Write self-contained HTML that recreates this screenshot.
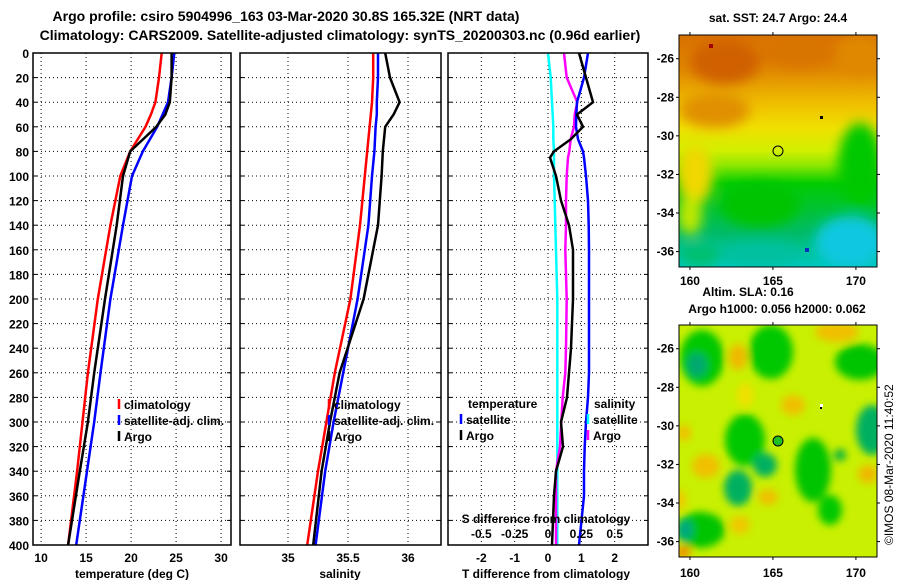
<!DOCTYPE html>
<html><head><meta charset="utf-8">
<style>
body{margin:0;background:#fff;}
svg text{font-family:"Liberation Sans",Arial,sans-serif;font-weight:bold;fill:#000;}
</style></head>
<body>
<svg id="chart" width="900" height="580" viewBox="0 0 900 580" xmlns="http://www.w3.org/2000/svg">
<defs>
<filter id="blur1" x="-50%" y="-50%" width="200%" height="200%"><feGaussianBlur stdDeviation="6"/></filter>
<filter id="blur2" x="-50%" y="-50%" width="200%" height="200%"><feGaussianBlur stdDeviation="4"/></filter>
<clipPath id="clipM1"><rect x="679" y="35" width="198" height="232"/></clipPath>
<clipPath id="clipM2"><rect x="679" y="325" width="198" height="232"/></clipPath>
<linearGradient id="sstGrad" x1="0" y1="0" x2="0" y2="1">
<stop offset="0" stop-color="#d87000"/><stop offset="0.15" stop-color="#e08800"/>
<stop offset="0.3" stop-color="#f0c000"/><stop offset="0.4" stop-color="#f0e000"/>
<stop offset="0.5" stop-color="#d0f000"/><stop offset="0.56" stop-color="#90e800"/>
<stop offset="0.64" stop-color="#00cc00"/><stop offset="0.85" stop-color="#00bb66"/>
<stop offset="1" stop-color="#00c8c0"/>
</linearGradient>
</defs>
<text x="286" y="21" font-size="14" text-anchor="middle">Argo profile: csiro 5904996_163 03-Mar-2020 30.8S 165.32E (NRT data)</text>
<text x="340" y="40" font-size="14" text-anchor="middle">Climatology: CARS2009. Satellite-adjusted climatology: synTS_20200303.nc (0.96d earlier)</text>
<g id="panels"></g>

<!-- SST map -->
<g>
<text x="778" y="22" font-size="12" text-anchor="middle">sat. SST: 24.7 Argo: 24.4</text>
<g clip-path="url(#clipM1)">
<rect x="679" y="35" width="198" height="232" fill="url(#sstGrad)"/>
<g filter="url(#blur1)">
<ellipse cx="725" cy="62" rx="35" ry="22" fill="#d06000"/>
<ellipse cx="800" cy="52" rx="40" ry="16" fill="#d87400"/>
<ellipse cx="860" cy="55" rx="25" ry="20" fill="#e08800"/>
<ellipse cx="715" cy="110" rx="35" ry="18" fill="#e09000"/>
<ellipse cx="695" cy="175" rx="18" ry="30" fill="#f0d800"/>
<ellipse cx="690" cy="215" rx="12" ry="20" fill="#c0e800"/>
<ellipse cx="860" cy="165" rx="22" ry="42" fill="#00c800"/>
<ellipse cx="760" cy="205" rx="40" ry="22" fill="#00c400"/>
<ellipse cx="850" cy="242" rx="35" ry="26" fill="#10c8e0"/>
<ellipse cx="760" cy="255" rx="40" ry="12" fill="#00c0a0"/>
<ellipse cx="700" cy="255" rx="20" ry="12" fill="#00c070"/>
</g>
<rect x="709" y="44" width="4" height="4" fill="#a00000"/>
<rect x="805" y="248" width="4" height="4" fill="#0030c0"/>
<rect x="820" y="116" width="3" height="3" fill="#000"/>
</g>
<rect x="679" y="35" width="198" height="232" fill="none" stroke="#000"/>
<circle cx="778" cy="151" r="5" fill="none" stroke="#000"/>
<g id="m1ticks"></g>
</g>
<text x="748" y="296" font-size="12" text-anchor="middle">Altim. SLA: 0.16</text>
<text x="777" y="313" font-size="12" text-anchor="middle">Argo h1000: 0.056 h2000: 0.062</text>
<!-- SLA map -->
<g>
<g clip-path="url(#clipM2)">
<rect x="679" y="325" width="198" height="232" fill="#c8f000"/>
<g filter="url(#blur2)">
<ellipse cx="702" cy="358" rx="22" ry="28" fill="#00c800"/>
<ellipse cx="697" cy="365" rx="10" ry="12" fill="#00a870"/>
<ellipse cx="771" cy="352" rx="22" ry="27" fill="#00c800"/>
<ellipse cx="860" cy="362" rx="25" ry="18" fill="#00c400"/>
<ellipse cx="872" cy="430" rx="16" ry="25" fill="#00b060"/>
<ellipse cx="745" cy="440" rx="20" ry="26" fill="#00c800"/>
<ellipse cx="765" cy="465" rx="12" ry="12" fill="#00b060"/>
<ellipse cx="738" cy="488" rx="14" ry="18" fill="#00b060"/>
<ellipse cx="813" cy="470" rx="18" ry="32" fill="#00c400"/>
<ellipse cx="830" cy="510" rx="12" ry="15" fill="#00c800"/>
<ellipse cx="700" cy="530" rx="25" ry="18" fill="#00c400"/>
<ellipse cx="685" cy="530" rx="8" ry="10" fill="#00a880"/>
<ellipse cx="840" cy="455" rx="6" ry="6" fill="#00b040"/>
<ellipse cx="738" cy="357" rx="9" ry="13" fill="#f0b800"/>
<ellipse cx="793" cy="405" rx="12" ry="10" fill="#f0c000"/>
<ellipse cx="837" cy="332" rx="22" ry="10" fill="#f0c000"/>
<ellipse cx="706" cy="466" rx="14" ry="12" fill="#f0c000"/>
<ellipse cx="684" cy="433" rx="7" ry="8" fill="#f0c000"/>
<ellipse cx="868" cy="474" rx="10" ry="9" fill="#f0b800"/>
<ellipse cx="768" cy="497" rx="10" ry="8" fill="#f0c000"/>
<ellipse cx="740" cy="525" rx="10" ry="9" fill="#f0c800"/>
<ellipse cx="683" cy="552" rx="8" ry="6" fill="#f09000"/>
<ellipse cx="745" cy="395" rx="8" ry="12" fill="#f0e000"/>
<ellipse cx="680" cy="500" rx="6" ry="10" fill="#f0c800"/>
</g>
<rect x="820" y="404" width="3" height="3" fill="#fff"/>
<rect x="820" y="407" width="2" height="2" fill="#000"/>
</g>
<rect x="679" y="325" width="198" height="232" fill="none" stroke="#000"/>
<circle cx="778" cy="441" r="5" fill="#20c020" stroke="#000"/>
<g id="m2ticks"></g>
</g>
<text transform="translate(893,545) rotate(-90)" font-size="12" style="font-weight:normal">©IMOS 08-Mar-2020 11:40:52</text>
</svg>
<script>
// depth levels (m)
const depths = [0, 20, 40, 50, 60, 80, 100, 140, 200, 260, 300, 340, 400];
// temperature (deg C)
const tempClim = [23.4, 23.1, 22.7, 22.2, 21.6, 19.9, 18.8, 17.7, 16.3, 15.2, 14.6, 14.0, 13.0];
const tempSat  = [24.8, 24.5, 24.1, 23.5, 22.9, 21.3, 20.1, 19.1, 17.7, 16.6, 15.9, 15.1, 13.9];
const tempArgo = [24.5, 24.5, 24.3, 23.8, 22.8, 19.9, 19.1, 18.4, 17.1, 15.9, 15.2, 14.3, 13.0];
// salinity
const salClim = [35.71, 35.71, 35.70, 35.69, 35.68, 35.66, 35.64, 35.60, 35.52, 35.39, 35.32, 35.25, 35.16];
const salSat  = [35.75, 35.75, 35.74, 35.74, 35.73, 35.72, 35.70, 35.67, 35.58, 35.46, 35.38, 35.31, 35.23];
const salArgo = [35.81, 35.85, 35.93, 35.88, 35.81, 35.79, 35.78, 35.75, 35.63, 35.43, 35.35, 35.28, 35.21];
// differences from climatology
const diffDepths = [0, 20, 40, 50, 60, 70, 80, 85, 100, 120, 140, 160, 200, 240, 260, 280, 300, 320, 340, 360, 400];
const tDiffSat  = [1.2, 1.08, 0.87, 0.85, 0.84, 0.9, 1.05, 1.08, 1.14, 1.2, 1.22, 1.23, 1.23, 1.23, 1.23, 1.2, 1.14, 1.1, 1.08, 1.08, 0.93];
const tDiffArgo = [0.93, 1.14, 1.35, 0.87, 1.05, 0.69, 0.18, 0.06, 0.24, 0.39, 0.63, 0.75, 0.75, 0.69, 0.63, 0.57, 0.39, 0.45, 0.24, 0.18, 0.12];
const sDiffSat  = [0.0, 0.02, 0.03, 0.035, 0.04, 0.04, 0.045, 0.045, 0.045, 0.05, 0.055, 0.06, 0.07, 0.07, 0.07, 0.07, 0.07, 0.07, 0.07, 0.07, 0.07];
const sDiffArgo = [0.12, 0.14, 0.22, 0.2, 0.195, 0.17, 0.16, 0.15, 0.14, 0.135, 0.135, 0.13, 0.14, 0.135, 0.13, 0.11, 0.1, 0.09, 0.06, 0.06, 0.06];
// ticks
const depthTicks = [0,20,40,60,80,100,120,140,160,180,200,220,240,260,280,300,320,340,360,380,400];
const tempTicks = [10,15,20,25,30];
const salTicks = [35,35.5,36];
const salTickLabels = ["35","35.5","36"];
const tdTicks = [-2,-1,0,1,2];
const sdTicks = [-0.5,-0.25,0,0.25,0.5];
const sdTickLabels = ["-0.5","-0.25","0","0.25","0.5"];
const lonTicks = [160,165,170];
const latTicks = [-26,-28,-30,-32,-34,-36];

const NS = "http://www.w3.org/2000/svg";
const root = document.getElementById('panels');
function mk(tag, attrs, parent){const e=document.createElementNS(NS,tag);for(const k in attrs)e.setAttribute(k,attrs[k]);(parent||root).appendChild(e);return e;}
function txt(s,x,y,anchor,size,parent){const t=mk('text',{x:x,y:y,'text-anchor':anchor||'middle','font-size':size||12},parent);t.textContent=s;return t;}

const TOP=53, BOT=545;
const yD = d => TOP + (d/400)*(BOT-TOP);

function panel(name, x0, x1, vmin, vmax){
  const g = mk('g',{});
  
  
  const sx = v => x0 + (v-vmin)/(vmax-vmin)*(x1-x0);
  return {g, sx, x0, x1};
}
function grid(p, xvals, sx){
  depthTicks.forEach(d=>{ if(d>0&&d<400){ const l=mk('line',{x1:p.x0,x2:p.x1,y1:yD(d),y2:yD(d),stroke:'#000','stroke-dasharray':'1,3'},p.g);  }
    mk('line',{x1:p.x0,x2:p.x0+4,y1:yD(d),y2:yD(d),stroke:'#000'},p.g); mk('line',{x1:p.x1-4,x2:p.x1,y1:yD(d),y2:yD(d),stroke:'#000'},p.g);});
  xvals.forEach(v=>{ const x=sx(v); const l=mk('line',{x1:x,x2:x,y1:TOP,y2:BOT,stroke:'#000','stroke-dasharray':'1,3'},p.g);  });
}
function frame(p){const r=mk('rect',{x:p.x0,y:TOP,width:p.x1-p.x0,height:BOT-TOP,fill:'none',stroke:'#000','stroke-width':1.5},p.g);  }
function line(p, xs, ds, sx, color, name){
  const pts = xs.map((v,i)=>sx(v).toFixed(1)+','+yD(ds[i]).toFixed(1)).join(' ');
  const l = mk('polyline',{points:pts,fill:'none',stroke:color,'stroke-width':2.5},p.g);
  
  
}
function legend(p, x, y, color, label, name){
  const b=mk('line',{x1:x,x2:x,y1:y-10,y2:y,stroke:color,'stroke-width':2.5},p.g);
  
  
  const t=txt(label,x+5,y,'start',12,p.g);
  
  
}

// Panel 1: temperature
const p1 = panel('temperature-panel', 33, 231, 9.1, 31.1);
grid(p1, tempTicks, p1.sx);
line(p1, tempClim, depths, p1.sx, '#ff0000', 'temp-climatology-line');
line(p1, tempSat, depths, p1.sx, '#0000ff', 'temp-satellite-line');
line(p1, tempArgo, depths, p1.sx, '#000000', 'temp-argo-line');
frame(p1);
depthTicks.forEach(d=>{const t=txt(String(d),29,yD(d)+5,'end',12,p1.g);  });
tempTicks.forEach(v=>{const t=txt(String(v),p1.sx(v),562,'middle',12,p1.g);  });
{const t=txt('temperature (deg C)',132,578,'middle',12,p1.g);  }
legend(p1,119,409,'#ff0000','climatology','legend-climatology');
legend(p1,119,425,'#0000ff','satellite-adj. clim.','legend-satellite');
legend(p1,119,441,'#000','Argo','legend-argo');

// Panel 2: salinity
const p2 = panel('salinity-panel', 240, 441, 34.6, 36.275);
grid(p2, salTicks, p2.sx);
line(p2, salClim, depths, p2.sx, '#ff0000', 'sal-climatology-line');
line(p2, salSat, depths, p2.sx, '#0000ff', 'sal-satellite-line');
line(p2, salArgo, depths, p2.sx, '#000000', 'sal-argo-line');
frame(p2);
salTicks.forEach((v,i)=>{const t=txt(salTickLabels[i],p2.sx(v),562,'middle',12,p2.g);  });
{const t=txt('salinity',340,578,'middle',12,p2.g);  }
legend(p2,329,409,'#ff0000','climatology','legend-climatology-2');
legend(p2,329,425,'#0000ff','satellite-adj. clim.','legend-satellite-2');
legend(p2,329,441,'#000','Argo','legend-argo-2');

// Panel 3: differences
const p3 = panel('difference-panel', 448, 648, -3, 3);
const sxS = v => 448 + (v+0.75)/1.5*200;
grid(p3, tdTicks, p3.sx);
line(p3, sDiffSat, diffDepths, sxS, '#00ffff', 'sal-diff-satellite-line');
line(p3, sDiffArgo, diffDepths, sxS, '#ff00ff', 'sal-diff-argo-line');
line(p3, tDiffSat, diffDepths, p3.sx, '#0000ff', 'temp-diff-satellite-line');
line(p3, tDiffArgo, diffDepths, p3.sx, '#000000', 'temp-diff-argo-line');
frame(p3);
tdTicks.forEach(v=>{const t=txt(String(v),p3.sx(v),562,'middle',12,p3.g);  });
{const t=txt('T difference from climatology',546,578,'middle',12,p3.g);  }
sdTicks.forEach((v,i)=>{const t=txt(sdTickLabels[i],sxS(v),538,'middle',12,p3.g);  });
{const t=txt('S difference from climatology',546,523,'middle',12,p3.g);  }
{const t=txt('temperature',468,408,'start',12,p3.g);  }
legend(p3,461,424,'#0000ff','satellite','legend-temp-satellite');
legend(p3,461,440,'#000','Argo','legend-temp-argo');
{const t=txt('salinity',594,408,'start',12,p3.g);  }
legend(p3,588,424,'#00ffff','satellite','legend-sal-satellite');
legend(p3,588,440,'#ff00ff','Argo','legend-sal-argo');

// Map ticks
function mapTicks(id, top, bot, latTop, latBot, labelsBelowY){
  const g=document.getElementById(id);
  const sx = lon => 679 + (lon-159.34)/(171.27-159.34)*198;
  const sy = lat => top + (latTop-lat)/(latTop-latBot)*(bot-top);
  lonTicks.forEach(l=>{const x=sx(l); mk('line',{x1:x,x2:x,y1:top,y2:top-3,stroke:'#000'},g); mk('line',{x1:x,x2:x,y1:bot,y2:bot+3,stroke:'#000'},g);
    const t=txt(String(l),x,labelsBelowY,'middle',12,g);  });
  latTicks.forEach(l=>{const y=sy(l); mk('line',{x1:676,x2:679,y1:y,y2:y,stroke:'#000'},g); mk('line',{x1:877,x2:880,y1:y,y2:y,stroke:'#000'},g);
    const t=txt(String(l),674,y+4,'end',12,g);  });
}
mapTicks('m1ticks',35,267,-24.77,-36.8,285);
mapTicks('m2ticks',325,557,-24.77,-36.8,577);
</script>
</body></html>
